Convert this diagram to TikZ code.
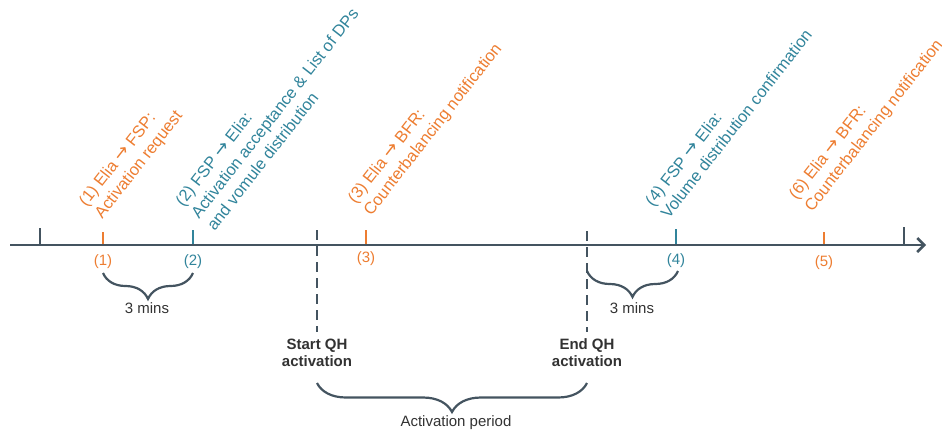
\documentclass[tikz,border=0pt]{standalone}
\usepackage{fontspec}
\setmainfont{Liberation Sans}
\newfontfamily\arrowfont{DejaVu Sans}
\usepackage{xcolor}
\usetikzlibrary{decorations.pathreplacing, positioning, arrows.meta, calc}

\definecolor{eliaorange}{RGB}{237,125,49}
\definecolor{eliateal}{RGB}{49,132,155}
\definecolor{axisgray}{RGB}{68,84,96}
\definecolor{textgray}{RGB}{50,50,50}

\newcommand{\sendto}{{\arrowfont\fontsize{18}{20}\selectfont →}}

\begin{document}
\begin{tikzpicture}[ x = 1pt, y = -1pt
                   , font = \fontsize{15}{17}\selectfont
                   , >={Straight Barb[length=7pt, width=14pt]}
                   , every node/.style = { inner sep = 0pt
                                         , align = center }
                   , tickmark/.style = { line width = 2.8pt }
                   , msg/.style = { rotate = 52
                                  , anchor = south west
                                  , align = left
                                  , font = \fontsize{16.5}{20}\selectfont }
                   , qhline/.style = { draw = axisgray
                                     , line width = 2.5pt
                                     , dash pattern = on 10pt off 6pt }
                   , qhtext/.style = { text = textgray
                                     , font = \fontsize{15}{17}\selectfont\bfseries }
                   , gap/.style = { draw = axisgray
                                  , line width = 2.2pt
                                  , decorate
                                  , decoration = {brace, mirror, amplitude = #1} }
                   , gap/.default = 26pt
                   ]

  \useasboundingbox (0,0) rectangle (942,432);

  \coordinate (origin) at (10,245);
  \coordinate (tip) at (926,245);
  \coordinate (t0) at (40,245);
  \coordinate (t1) at (103,245);
  \coordinate (t2) at (193,245);
  \coordinate (sqh) at (317,245);
  \coordinate (t3) at (366,245);
  \coordinate (eqh) at (587,245);
  \coordinate (t4) at (676,245);
  \coordinate (t5) at (824,245);
  \coordinate (tn) at (904,245);

  \draw[tickmark, axisgray] (t0) -- ++(0,-17);
  \draw[tickmark, axisgray] (tn) -- ++(0,-18);
  \draw[tickmark, eliaorange] (t1) -- ++(0,-13);
  \draw[tickmark, eliateal] (t2) -- ++(0,-15);
  \draw[tickmark, eliaorange] (t3) -- ++(0,-15);
  \draw[tickmark, eliateal] (t4) -- ++(0,-16);
  \draw[tickmark, eliaorange] (t5) -- ++(0,-13);

  \draw[->, axisgray, line width = 2.5pt] (origin) -- (tip);

  \node (n1) [below = 9pt of t1, text = eliaorange] {(1)};
  \node (n2) [below = 9pt of t2, text = eliateal] {(2)};
  \node (n3) [below = 6pt of t3, text = eliaorange] {(3)};
  \node (n4) [below = 8pt of t4, text = eliateal] {(4)};
  \node (n5) [below = 10pt of t5, text = eliaorange] {(5)};

  \node (m1) [msg, text = eliaorange] at (105,222)
  {(1) Elia \sendto{} FSP:\\Activation request};
  \node (m2) [msg, text = eliateal] at (215,232)
  {(2) FSP \sendto{} Elia:\\Activation acceptance \& List of DPs\\and vomule distribution};
  \node (m3) [msg, text = eliaorange] at (374,219)
  {(3) Elia \sendto{} BFR:\\Counterbalancing notification};
  \node (m4) [msg, text = eliateal] at (669,220)
  {(4) FSP \sendto{} Elia:\\Volume distribution confirmation};
  \node (m6) [msg, text = eliaorange] at (815,215)
  {(6) Elia \sendto{} BFR:\\Counterbalancing notification};

  \node (start) [qhtext] at (317,353) {Start QH\\activation};
  \node (end) [qhtext] at (587,353) {End QH\\activation};

  \draw[qhline] ([yshift=15pt]sqh) -- ([yshift=7pt]start.north);
  \draw[qhline] ([yshift=14pt]eqh) -- ([yshift=7pt]end.north);

  \draw[gap] (103,273) -- (193,273);
  \draw[gap] (587,271) -- (678,271);
  \draw[gap = 29pt] (317,383) -- (587,383);

  \tikzset{every node/.style = { inner sep = 0pt, text = textgray }}

  \node (d1) at (147,308) {3 mins};
  \node (d2) at (632,308) {3 mins};
  \node (period) at (456,423) {Activation period};

\end{tikzpicture}
\end{document}
